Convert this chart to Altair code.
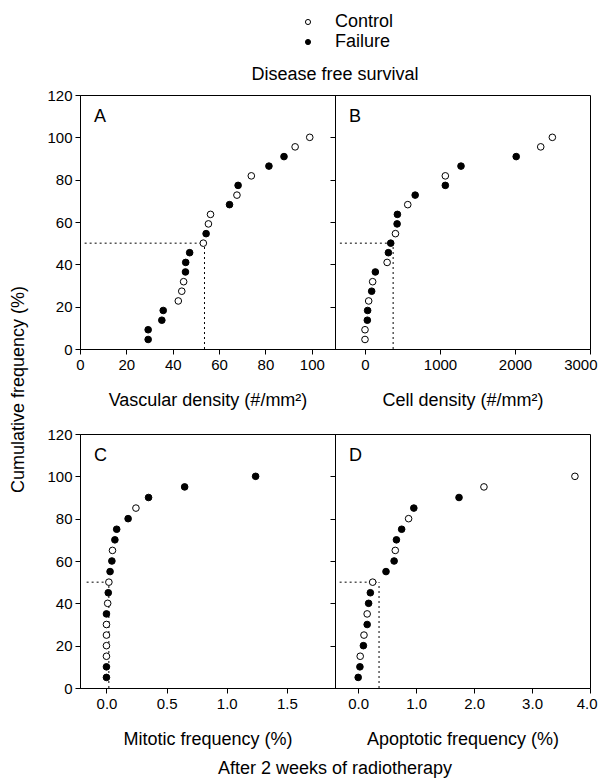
import altair as alt
import pandas as pd

FONT = "Liberation Sans"

group_names = ["Control", "Failure"]

# cumulative frequency (%)
cum_top = [4.5, 9.1, 13.6, 18.2, 22.7, 27.3, 31.8, 36.4, 40.9, 45.5, 50.0,
           54.5, 59.1, 63.6, 68.2, 72.7, 77.3, 81.8, 86.4, 90.9, 95.5, 100.0]
cum_bottom = [5, 10, 15, 20, 25, 30, 35, 40, 45, 50,
              55, 60, 65, 70, 75, 80, 85, 90, 95, 100]

# Panel A: vascular density (#/mm2)
vasc_values = [29.4, 29.4, 35.3, 35.9, 42.4, 43.9, 44.7, 45.5, 45.6, 47.3, 53.2,
               54.4, 55.4, 56.3, 64.5, 67.7, 68.2, 73.9, 81.5, 88.0, 92.8, 99.1]
vasc_groups = ["Failure", "Failure", "Failure", "Failure", "Control", "Control",
               "Control", "Failure", "Failure", "Failure", "Control", "Failure",
               "Control", "Control", "Failure", "Control", "Failure", "Control",
               "Failure", "Failure", "Control", "Control"]

# Panel B: cell density (#/mm2)
cell_values = [0, 0, 31, 35, 49, 89, 102, 138, 295, 312, 343,
               406, 428, 432, 570, 669, 1071, 1071, 1280, 2016, 2343, 2498]
cell_groups = ["Control", "Control", "Failure", "Failure", "Control", "Failure",
               "Control", "Failure", "Control", "Failure", "Failure", "Control",
               "Failure", "Failure", "Control", "Failure", "Failure", "Control",
               "Failure", "Failure", "Control", "Control"]

# Panel C: mitotic frequency (%)
mito_values = [0.0, 0.0, 0.0, 0.0, 0.0, 0.0, 0.0, 0.01, 0.015, 0.02,
               0.03, 0.045, 0.05, 0.07, 0.085, 0.18, 0.245, 0.35, 0.65, 1.24]
mito_groups = ["Failure", "Failure", "Control", "Control", "Control", "Control",
               "Failure", "Control", "Failure", "Control", "Failure", "Failure",
               "Control", "Failure", "Failure", "Failure", "Control", "Failure",
               "Failure", "Failure"]

# Panel D: apoptotic frequency (%)
apop_values = [0.0, 0.03, 0.035, 0.09, 0.10, 0.155, 0.155, 0.18, 0.21, 0.25,
               0.48, 0.62, 0.64, 0.66, 0.75, 0.87, 0.96, 1.74, 2.17, 3.74]
apop_groups = ["Failure", "Failure", "Control", "Failure", "Control", "Failure",
               "Control", "Failure", "Failure", "Control", "Failure", "Failure",
               "Control", "Failure", "Failure", "Control", "Failure", "Failure",
               "Control", "Control"]

# median guide lines (dotted)
median_x = [53.7, 375, 0.02, 0.36]
guide_start = [2.0, -335, -0.165, -0.32]
median_level = 50

y_ticks = [0, 20, 40, 60, 80, 100, 120]

W, H = 255, 254


def panel(values, groups, cum, xdomain, xticks, xfmt, xtitle, letter, med, start,
          y_labels, y_title, title=None, flush_end=False):
    df = pd.DataFrame({"value": values, "group": groups, "cum": cum})
    gdf = pd.DataFrame({"start": [start], "med": [med], "zero": [0], "half": [median_level]})
    ldf = pd.DataFrame({"label": [letter]})

    x_scale = alt.Scale(domain=xdomain, nice=False, zero=False)
    y_scale = alt.Scale(domain=[0, 120], nice=False, zero=False)
    if flush_end:
        x_axis = alt.Axis(values=xticks, format=xfmt, title=xtitle,
                          labelFlush=True, labelFlushOffset=7)
    else:
        x_axis = alt.Axis(values=xticks, format=xfmt, title=xtitle)
    if y_title:
        y_axis = alt.Axis(values=y_ticks, title="Cumulative frequency (%)",
                          titleX=-57, titleY=294, titleAngle=270,
                          titleAlign="center", titleBaseline="alphabetic")
    elif y_labels:
        y_axis = alt.Axis(values=y_ticks, title=None)
    else:
        y_axis = alt.Axis(values=y_ticks, labels=False, title=None)

    legend = alt.Legend(title=None, orient="none", legendX=219, legendY=-82,
                        direction="vertical", labelFontSize=18, labelFont=FONT,
                        symbolSize=26, symbolType="circle", symbolStrokeColor="black",
                        symbolStrokeWidth=1, labelOffset=18, rowPadding=2)

    dotted = dict(strokeDash=[2, 3], color="black", strokeWidth=1)
    hline = alt.Chart(gdf).mark_rule(**dotted).encode(
        x=alt.X("start:Q", scale=x_scale, axis=x_axis),
        x2="med:Q",
        y=alt.Y("half:Q", scale=y_scale, axis=y_axis),
    )
    vline = alt.Chart(gdf).mark_rule(**dotted).encode(
        x=alt.X("med:Q", scale=x_scale, axis=x_axis),
        y=alt.Y("zero:Q", scale=y_scale, axis=y_axis),
        y2="half:Q",
    )
    pts = alt.Chart(df).mark_point(filled=True, size=44, stroke="black",
                                   strokeWidth=1, opacity=1).encode(
        x=alt.X("value:Q", scale=x_scale, axis=x_axis),
        y=alt.Y("cum:Q", scale=y_scale, axis=y_axis),
        fill=alt.Fill("group:N", scale=alt.Scale(domain=group_names,
                                                 range=["white", "black"]),
                      legend=legend),
    )
    txt = alt.Chart(ldf).mark_text(align="left", baseline="alphabetic",
                                   fontSize=18, font=FONT, color="black").encode(
        x=alt.value(14), y=alt.value(27), text="label:N")
    layer = alt.layer(hline, vline, pts, txt).properties(width=W, height=H)
    if title is not None:
        layer = layer.properties(title=title)
    return layer


title_top = alt.TitleParams("Disease free survival", orient="top", anchor="end",
                            align="center", frame="group", fontSize=18, font=FONT,
                            fontWeight="normal", baseline="alphabetic", offset=-10,
                            color="black")
title_bottom = alt.TitleParams("After 2 weeks of radiotherapy", orient="bottom",
                               anchor="end", align="center", frame="group",
                               fontSize=18, font=FONT, fontWeight="normal",
                               offset=12, color="black")

A = panel(vasc_values, vasc_groups, cum_top, [0, 110], [0, 20, 40, 60, 80, 100], "d",
          "Vascular density (#/mm²)", "A", median_x[0], guide_start[0], True, True,
          title_top)
B = panel(cell_values, cell_groups, cum_top, [-400, 3000], [0, 1000, 2000, 3000], "d",
          "Cell density (#/mm²)", "B", median_x[1], guide_start[1], False, False,
          flush_end=True)
C = panel(mito_values, mito_groups, cum_bottom, [-0.22, 1.9], [0, 0.5, 1.0, 1.5], ".1f",
          "Mitotic frequency (%)", "C", median_x[2], guide_start[2], True, False,
          title_bottom)
D = panel(apop_values, apop_groups, cum_bottom, [-0.4, 4.0], [0, 1, 2, 3, 4], ".1f",
          "Apoptotic frequency (%)", "D", median_x[3], guide_start[3], False, False,
          flush_end=True)

chart = alt.concat(A, B, C, D, columns=2, spacing={"row": 85, "column": 0},
                   bounds="flush").properties(
    padding={"left": 0, "top": 5, "right": 0, "bottom": 5}
).configure_view(
    stroke="black", strokeWidth=1
).configure_axis(
    domainColor="black", tickColor="black", labelColor="black", titleColor="black",
    labelFont=FONT, titleFont=FONT, labelFontSize=15, titleFontSize=18,
    titleFontWeight="normal", grid=False, tickSize=5, labelPadding=3, titlePadding=19,
    labelFlush=False
)

chart.save("out.html", embed_options={"renderer": "svg", "actions": False})
